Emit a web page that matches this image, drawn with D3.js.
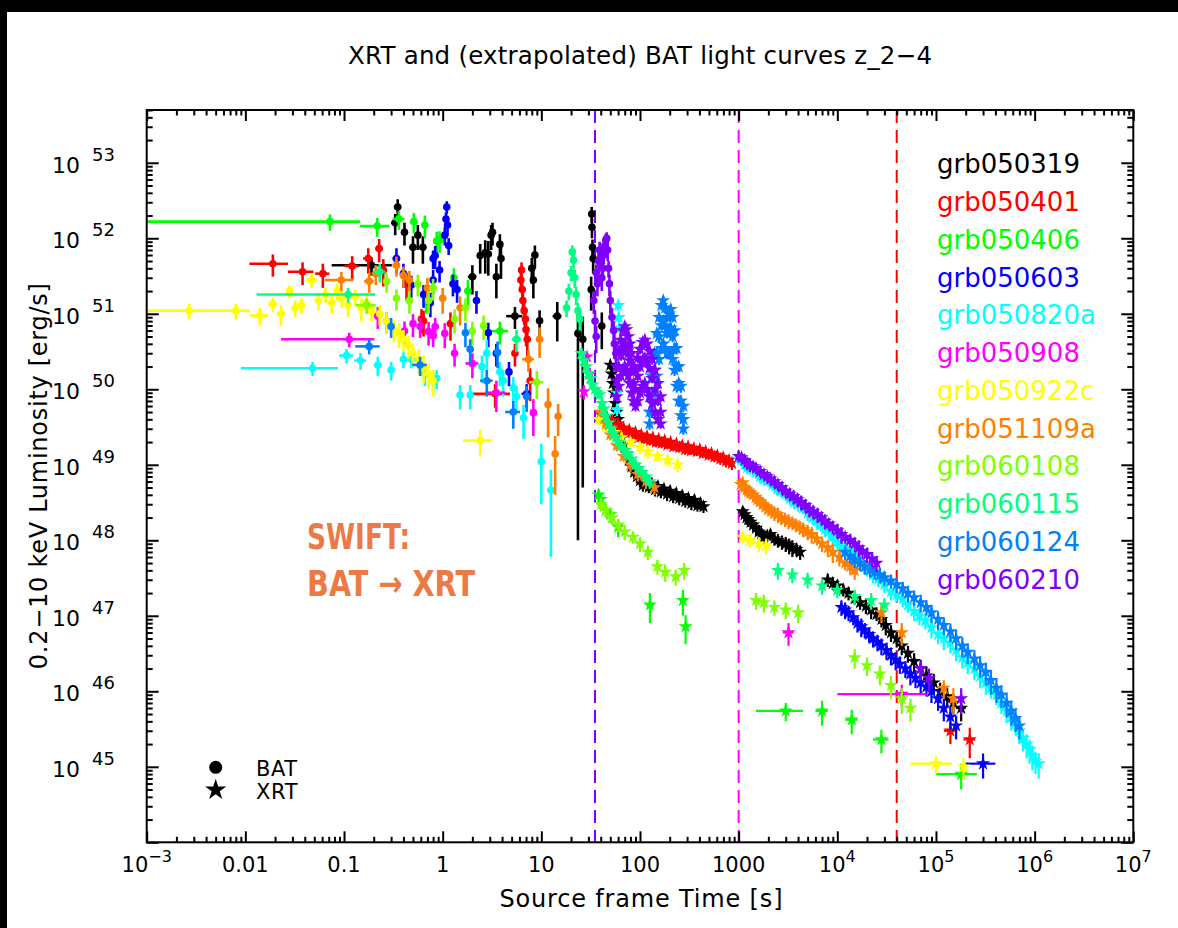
<!DOCTYPE html>
<html>
<head>
<meta charset="utf-8">
<script src="https://cdn.jsdelivr.net/npm/d3@7"></script>
<style>
html, body { margin: 0; padding: 0; background: #fff; }
svg { display: block; }
text { font-family: "DejaVu Sans", sans-serif; }
</style>
</head>
<body>
<svg id="chart" width="1178" height="928"></svg>
<script>
// Each point: [time (s), time half-width (s), luminosity (erg/s), luminosity half-error (erg/s)]

const grbNames = ["grb050319", "grb050401", "grb050406", "grb050603", "grb050820a", "grb050908",
  "grb050922c", "grb051109a", "grb060108", "grb060115", "grb060124", "grb060210"];
const grbColors = ["#000000", "#ff0000", "#00ff00", "#0000ff", "#00ffff", "#ff00ff",
  "#ffff00", "#ff8000", "#80ff00", "#00ff80", "#0080ff", "#8000ff"];

const bat050319 = [
  [0.19, 0.115, 4.4e51, 1.2e51], [0.33, 0.03, 1.6e52, 5e51], [0.35, 0.03, 2.6e52, 7e51],
  [0.41, 0.03, 1.2e52, 4e51], [0.50, 0.04, 7.6e51, 3e51], [0.56, 0.04, 1.1e52, 4e51],
  [0.63, 0.05, 7.6e51, 3e51], [2.0, 0.2, 3.1e51, 1.3e51], [2.4, 0.15, 5.9e51, 2.5e51],
  [2.7, 0.15, 6.4e51, 3e51], [2.9, 0.15, 6.2e51, 3e51], [3.1, 0.15, 1.1e52, 4e51],
  [3.2, 0.15, 1.2e52, 4e51], [3.5, 0.2, 3.1e51, 1.5e51], [3.8, 0.2, 8.3e51, 3e51],
  [3.9, 0.2, 5.4e51, 2.5e51], [5.4, 1.0, 9.3e50, 3e50], [8.0, 0.4, 4.0e51, 1.5e51],
  [8.3, 0.4, 2.8e51, 1.2e51], [8.6, 0.4, 6.0e51, 2e51], [9.6, 0.5, 8.1e50, 3e50],
  [14.5, 1.5, 9.3e50, 5e50], [23.5, 1, 5.5e50, 5.49e50], [26.3, 1, 4.6e50, 4.55e50],
  [32, 0.5, 2.1e51, 1e51], [32.4, 0.5, 2.1e52, 5e51], [32.6, 0.5, 1.4e52, 4e51],
  [33, 0.5, 7.6e51, 2e51], [33.5, 0.5, 5.4e51, 2e51], [41, 1, 6.9e50, 3.5e50]
];
const xrt050319 = [
  [50, 1, 2.1e50, 3e49], [51.5, 1, 1.6e50, 2.5e49], [53, 1, 1.2e50, 2e49], [54.5, 1, 9e49, 1.5e49],
  [56, 1, 6.5e49, 1e49], [58, 1, 5e49, 8e48], [60, 1.5, 4e49, 6e48], [63, 1.5, 3e49, 5e48],
  [66, 1.5, 2.3e49, 4e48], [69, 2, 1.8e49, 3e48], [73, 2, 1.4e49, 2.5e48], [77, 2, 1.15e49, 2e48],
  [82, 2.5, 9.5e48, 1.7e48], [87, 2.5, 8e48, 1.5e48], [93, 3, 7e48, 1.3e48], [100, 3, 6.2e48, 1.2e48],
  [107, 3, 5.4e48, 1e48], [115, 4, 5.9e48, 1e48], [123, 4, 5.1e48, 9e47], [132, 4, 5.6e48, 1e48],
  [142, 5, 4.7e48, 9e47], [152, 5, 5.2e48, 9e47], [163, 5, 4.4e48, 8e47], [175, 6, 4.8e48, 8e47],
  [188, 6, 4.1e48, 8e47], [202, 7, 4.5e48, 8e47], [217, 7, 3.8e48, 7e47], [233, 8, 4.2e48, 7e47],
  [250, 8, 3.6e48, 7e47], [268, 9, 3.9e48, 7e47], [288, 10, 3.3e48, 6e47], [309, 10, 3.6e48, 6e47],
  [332, 11, 3.1e48, 6e47], [356, 12, 3.4e48, 6e47], [382, 13, 2.9e48, 5e47], [410, 14, 3.1e48, 5e47],
  [440, 15, 2.8e48, 5e47],
  [1100, 40, 2.4e48, 4e47], [1150, 40, 2.2e48, 4e47], [1200, 40, 2.0e48, 4e47], [1250, 40, 1.9e48, 4e47],
  [1320, 45, 1.75e48, 3e47], [1400, 50, 1.6e48, 3e47], [1500, 55, 1.45e48, 3e47], [1600, 60, 1.3e48, 3e47],
  [1700, 60, 1.25e48, 2e47], [1800, 60, 1.1e48, 2e47], [1950, 65, 1.15e48, 2e47], [2100, 70, 1.2e48, 2e47],
  [2300, 75, 1.05e48, 2e47], [2500, 80, 1.0e48, 2e47], [2750, 90, 9.5e47, 2e47], [3000, 100, 9e47, 2e47],
  [3250, 100, 8.5e47, 2e47], [3500, 100, 8e47, 2e47], [3850, 120, 7.6e47, 1.5e47], [4200, 150, 7e47, 1.5e47],
  [8000, 300, 3e47, 6e46], [9000, 350, 2.7e47, 5e46], [1e4, 400, 2.5e47, 5e46], [1.15e4, 450, 2.2e47, 4e46],
  [1.3e4, 500, 2e47, 4e46], [1.5e4, 550, 1.7e47, 3e46], [1.7e4, 600, 1.5e47, 3e46], [1.95e4, 700, 1.35e47, 3e46],
  [2.2e4, 800, 1.2e47, 3e46], [2.5e4, 900, 1.05e47, 2e46], [2.8e4, 1000, 9e46, 2e46], [3.1e4, 1200, 7.5e46, 2e46],
  [3.5e4, 1500, 6e46, 1.5e46], [4e4, 1700, 5e46, 1.2e46], [4.5e4, 2000, 4e46, 1e46], [5.2e4, 2500, 3.2e46, 8e45],
  [6e4, 3000, 2.5e46, 7e45], [7e4, 3500, 2e46, 6e45], [8e4, 4000, 1.6e46, 5e45], [9.5e4, 5000, 1.3e46, 4e45],
  [1.1e5, 6000, 1e46, 3e45], [1.3e5, 7000, 8.5e45, 2.5e45], [1.5e5, 8000, 7e45, 2e45],
  [1.8e5, 2e4, 6e45, 2e45]
];

const bat050401 = [
  [0.019, 0.008, 4.6e51, 1.5e51], [0.038, 0.011, 3.6e51, 1.2e51], [0.061, 0.01, 3.4e51, 1.2e51],
  [0.121, 0.02, 4.3e51, 1.5e51], [0.176, 0.02, 5.4e51, 2e51], [0.227, 0.02, 7.3e51, 2.5e51],
  [0.25, 0.02, 3.8e51, 1.5e51], [0.43, 0.03, 2.5e51, 1e51], [0.61, 0.05, 8.5e50, 3e50],
  [0.64, 0.05, 8e50, 3e50], [1.2, 0.1, 7.4e50, 3e50], [3.4, 1.4, 8.7e49, 3e49],
  [5.4, 0.3, 3.0e50, 1e50], [6.2, 0.1, 2.8e51, 8e50], [6.3, 0.1, 3.8e51, 1e51],
  [6.4, 0.1, 2.1e51, 6e50], [6.5, 0.1, 1.5e51, 5e50], [6.7, 0.1, 1.1e51, 4e50],
  [6.9, 0.1, 8.5e50, 3e50], [7.0, 0.1, 6.2e50, 2.5e50], [7.2, 0.1, 4.6e50, 2e50],
  [7.7, 0.3, 1.3e50, 6e49]
];
const xrt050401 = [
  [40, 1.5, 4.6e49, 6e48], [43, 1.5, 4.1e49, 5e48], [46, 1.5, 4.4e49, 5e48], [49, 1.5, 3.7e49, 5e48],
  [52, 2, 3.9e49, 5e48], [56, 2, 3.3e49, 4e48], [60, 2, 3.5e49, 4e48], [64, 2, 2.9e49, 4e48],
  [68, 2, 3.1e49, 4e48], [73, 2.5, 2.6e49, 3e48], [78, 2.5, 2.9e49, 3e48], [84, 3, 2.5e49, 3e48],
  [90, 3, 2.7e49, 3e48], [96, 3, 2.3e49, 3e48], [103, 3.5, 2.5e49, 3e48], [110, 3.5, 2.2e49, 3e48],
  [118, 4, 2.4e49, 3e48], [126, 4, 2.1e49, 3e48], [135, 4.5, 2.3e49, 3e48], [145, 5, 2.0e49, 3e48],
  [155, 5, 2.2e49, 3e48], [166, 5.5, 1.95e49, 3e48], [178, 6, 2.1e49, 3e48], [190, 6, 1.85e49, 2.5e48],
  [204, 7, 2.0e49, 2.5e48], [218, 7, 1.75e49, 2.5e48], [234, 8, 1.9e49, 2.5e48], [250, 8, 1.7e49, 2.5e48],
  [268, 9, 1.8e49, 2.5e48], [287, 10, 1.6e49, 2.5e48], [307, 10, 1.75e49, 2.5e48], [329, 11, 1.55e49, 2e48],
  [352, 12, 1.65e49, 2e48], [377, 12, 1.5e49, 2e48], [404, 13, 1.6e49, 2e48], [432, 14, 1.42e49, 2e48],
  [463, 15, 1.5e49, 2e48], [496, 16, 1.35e49, 2e48], [531, 17, 1.42e49, 2e48], [568, 18, 1.28e49, 2e48],
  [608, 20, 1.33e49, 2e48], [651, 21, 1.2e49, 2e48], [697, 23, 1.25e49, 2e48], [746, 24, 1.12e49, 2e48],
  [799, 26, 1.15e49, 2e48], [855, 28, 1.05e49, 2e48],
  [1.4e5, 2e4, 3e45, 1e45], [2.2e5, 3e4, 2.3e45, 1e45]
];

const bat050406 = [
  [0.072, 0.073, 1.66e52, 4e51], [0.217, 0.072, 1.45e52, 4e51], [0.36, 0.05, 1.8e52, 5e51],
  [0.51, 0.04, 1.66e52, 5e51], [0.66, 0.05, 1.5e52, 5e51], [0.68, 0.05, 1.6e51, 6e50],
  [0.87, 0.06, 9.2e51, 3e51], [0.93, 0.06, 9.4e51, 3e51], [1.3, 0.1, 3e51, 1e51],
  [1.8, 0.1, 2e51, 8e50], [3.8, 0.8, 5.9e50, 2e50]
];
const xrt050406 = [
  [38, 1, 4e48, 8e47], [40, 1, 3.5e48, 7e47], [45, 2, 2.5e48, 5e47], [50, 2, 2.2e48, 5e47],
  [60, 3, 1.5e48, 4e47], [126, 10, 1.4e47, 6e46], [272, 15, 1.6e47, 6e46], [290, 15, 7.2e46, 3e46],
  [3000, 1500, 5.5e45, 1.5e45], [7000, 1000, 5.5e45, 2e45], [1.4e4, 2000, 4.2e45, 1.5e45],
  [2.8e4, 5000, 2.3e45, 8e44], [1.8e5, 8e4, 8e44, 3e44]
];

const bat050603 = [
  [0.34, 0.03, 5.4e51, 2e51], [0.40, 0.03, 3.4e51, 1.2e51], [0.48, 0.03, 2.4e51, 8e50],
  [0.64, 0.04, 1.8e51, 6e50], [0.75, 0.04, 1.4e51, 5e50], [0.80, 0.04, 5.4e51, 1.5e51],
  [0.80, 0.04, 2.8e51, 1e51], [0.84, 0.04, 5.9e51, 2e51], [0.93, 0.04, 3.8e51, 1.2e51],
  [1.05, 0.03, 1.1e52, 3e51], [1.08, 0.03, 1.8e52, 4e51], [1.1, 0.03, 2.6e52, 5e51],
  [1.12, 0.03, 1.5e52, 4e51], [1.15, 0.03, 8e51, 2e51], [1.27, 0.05, 2.5e51, 8e50],
  [1.4, 0.05, 2.1e51, 7e50], [2.2, 0.1, 1.5e51, 5e50], [2.9, 0.1, 5.6e50, 2e50],
  [3.5, 0.2, 3e50, 1e50], [4.7, 0.3, 1.7e50, 6e49], [7.1, 0.8, 8.7e49, 3e49]
];
const xrt050603 = [
  [1.1e4, 500, 1.3e47, 3e46], [1.2e4, 550, 1.2e47, 3e46], [1.3e4, 600, 1.1e47, 2.5e46],
  [1.45e4, 650, 9.5e46, 2e46], [1.6e4, 700, 8e46, 2e46], [1.75e4, 750, 7.2e46, 2e46],
  [1.9e4, 800, 6.5e46, 1.5e46], [2.1e4, 900, 5.7e46, 1.3e46], [2.3e4, 1000, 5e46, 1.2e46],
  [2.55e4, 1100, 4.5e46, 1.1e46], [2.8e4, 1200, 4e46, 1e46], [3.15e4, 1300, 3.5e46, 9e45],
  [3.5e4, 1500, 3e46, 8e45], [3.9e4, 1700, 2.6e46, 7e45], [4.3e4, 2000, 2.3e46, 6e45],
  [4.9e4, 2200, 2e46, 5e45], [5.5e4, 2500, 1.7e46, 5e45], [6.2e4, 2800, 1.5e46, 4e45],
  [7e4, 3000, 1.3e46, 4e45], [8e4, 3500, 1.15e46, 3e45], [9e4, 4000, 1e46, 3e45],
  [1.05e5, 5000, 8e45, 2.5e45], [1.2e5, 6000, 6e45, 2e45], [1.4e5, 7000, 4.6e45, 1.5e45],
  [1.6e5, 8000, 3.5e45, 1.2e45], [3e5, 1e5, 1.1e45, 4e44]
];

const bat050820a = [
  [0.048, 0.039, 1.9e50, 4e49], [0.106, 0.017, 2.8e50, 6e49], [0.147, 0.02, 2.4e50, 6e49],
  [0.22, 0.02, 2.1e50, 6e49], [0.30, 0.02, 1.8e50, 5e49], [0.40, 0.03, 2.5e50, 6e49],
  [0.48, 0.03, 2.5e50, 6e49], [0.66, 0.04, 1.6e50, 5e49], [0.80, 0.05, 1.3e50, 4e49],
  [0.87, 0.05, 1.4e50, 4e49], [1.5, 0.1, 8.4e49, 3e49], [1.9, 0.1, 8.4e49, 3e49],
  [2.5, 0.15, 2e50, 8e49], [2.8, 0.15, 3e50, 1.5e50], [3.8, 0.2, 1.7e50, 6e49],
  [4.1, 0.2, 1.3e50, 5e49], [5.2, 0.3, 1.05e50, 4e49], [5.6, 0.3, 8e49, 3e49],
  [6.6, 0.4, 4.2e49, 2e49], [10, 0.6, 1.1e49, 8e48], [12.5, 0.8, 4.6e48, 4e48]
];
const xrt050820a = [
  [58.5, 1, 8.9e49, 1.5e49], [58.5, 1, 5.4e49, 1e49],
  [60, 1, 1.3e51, 2e50], [61, 1, 9e50, 1.5e50], [62, 1, 6.5e50, 1e50], [63, 1, 4.5e50, 8e49],
  [64, 1, 3e50, 6e49],
  [1000, 30, 1.2e49, 2e48], [1070, 32, 1.15e49, 2e48], [1150, 35, 1e49, 1.8e48], [1220, 37, 9.2e48, 1.7e48],
  [1300, 40, 9e48, 1.6e48], [1400, 45, 8.8e48, 1.6e48], [1500, 50, 8e48, 1.5e48], [1650, 55, 7e48, 1.3e48],
  [1800, 60, 6.5e48, 1.2e48], [2000, 65, 6.2e48, 1.1e48], [2200, 70, 5.5e48, 1e48], [2450, 80, 4.8e48, 9e47],
  [2700, 90, 4.5e48, 8e47], [3000, 100, 4.1e48, 8e47], [3300, 110, 3.6e48, 7e47], [3650, 120, 3.2e48, 6e47],
  [4000, 130, 3e48, 6e47], [4500, 150, 2.7e48, 5e47], [5000, 160, 2.3e48, 5e47], [5600, 180, 2e48, 4e47],
  [6200, 200, 1.8e48, 4e47], [6800, 220, 1.6e48, 3e47], [7500, 250, 1.4e48, 3e47], [8200, 270, 1.3e48, 3e47],
  [9000, 300, 1.1e48, 2.5e47], [1e4, 350, 9.5e47, 2e47], [1.1e4, 400, 8.5e47, 2e47], [1.25e4, 450, 7.8e47, 1.7e47],
  [1.4e4, 500, 6.5e47, 1.5e47], [1.6e4, 600, 5.4e47, 1.2e47], [1.8e4, 700, 4.8e47, 1e47], [2e4, 800, 4.2e47, 9e46],
  [2.3e4, 900, 3.5e47, 8e46], [2.6e4, 1000, 3.1e47, 7e46], [3e4, 1200, 2.6e47, 6e46], [3.5e4, 1400, 2.1e47, 5e46],
  [4e4, 1600, 1.9e47, 4e46], [4.6e4, 1800, 1.7e47, 4e46], [5.2e4, 2000, 1.4e47, 3e46], [6e4, 2300, 1.15e47, 3e46],
  [6.8e4, 2500, 1e47, 2.5e46], [7.8e4, 3000, 8.6e46, 2e46], [9e4, 3500, 7e46, 2e46], [1.05e5, 4000, 5.7e46, 1.5e46],
  [1.2e5, 5000, 5e46, 1.5e46], [1.4e5, 6000, 4.4e46, 1.2e46], [1.6e5, 7000, 3.5e46, 1e46], [1.85e5, 8000, 2.8e46, 8e45],
  [2.1e5, 9000, 2.4e46, 7e45], [2.45e5, 1e4, 2e46, 6e45], [2.8e5, 1.2e4, 1.6e46, 5e45], [3.2e5, 1.3e4, 1.3e46, 4e45],
  [3.6e5, 1.5e4, 1.1e46, 3e45], [4.1e5, 1.7e4, 9e45, 2.5e45], [4.6e5, 2e4, 7e45, 2e45], [5.2e5, 2.2e4, 5.5e45, 1.7e45],
  [5.8e5, 2.5e4, 4.5e45, 1.5e45], [6.4e5, 2.7e4, 3.8e45, 1.2e45], [7e5, 3e4, 3e45, 1e45], [7.6e5, 3.2e4, 2.4e45, 8e44],
  [8.3e5, 3.5e4, 2e45, 7e44], [8.9e5, 3.8e4, 1.7e45, 6e44], [9.5e5, 4e4, 1.4e45, 5e44], [1.02e6, 4.5e4, 1.2e45, 4e44],
  [1.1e6, 5e4, 1.1e45, 4e44]
];

const bat050908 = [
  [0.113, 0.09, 4.6e50, 1e50], [0.22, 0.02, 9.3e50, 3e50], [0.27, 0.02, 8.0e50, 2.5e50],
  [0.41, 0.03, 5.9e50, 2e50], [0.50, 0.03, 7.4e50, 2.5e50], [0.59, 0.04, 6.8e50, 2e50],
  [0.72, 0.04, 5.8e50, 2e50], [0.80, 0.05, 5.1e50, 1.5e50], [0.84, 0.05, 6.8e50, 2e50],
  [1.05, 0.06, 5.5e50, 2e50], [1.32, 0.08, 3e50, 1e50], [2.0, 0.3, 2.2e50, 8e49],
  [3.5, 0.8, 9e49, 4e49], [8.3, 0.6, 4.9e49, 2.5e49]
];
const xrt050908 = [
  [27, 1, 9.3e49, 2e49], [29, 1, 2.7e50, 5e49], [31, 1, 1.6e50, 3e49],
  [3200, 400, 6e46, 2e46], [4.5e4, 3.5e4, 9.2e45, 3e45]
];

const bat050922c = [
  [0.0027, 0.0024, 1.1e51, 2.5e50], [0.008, 0.003, 1.1e51, 2.5e50], [0.014, 0.003, 9.5e50, 2.5e50],
  [0.019, 0.002, 1.35e51, 3e50], [0.023, 0.002, 1.0e51, 3e50], [0.028, 0.002, 2e51, 4e50],
  [0.032, 0.002, 1.2e51, 3e50], [0.037, 0.003, 1.3e51, 3e50], [0.047, 0.006, 2.8e51, 6e50],
  [0.055, 0.004, 1.5e51, 4e50], [0.065, 0.004, 1.8e51, 4e50], [0.075, 0.005, 1.4e51, 4e50],
  [0.085, 0.005, 2.0e51, 5e50], [0.095, 0.005, 1.6e51, 4e50], [0.11, 0.006, 1.3e51, 4e50],
  [0.13, 0.007, 1.7e51, 4e50], [0.15, 0.008, 1.2e51, 4e50], [0.17, 0.009, 1.4e51, 4e50],
  [0.19, 0.01, 1.1e51, 3e50], [0.23, 0.01, 1.0e51, 3e50], [0.27, 0.01, 8e50, 2.5e50],
  [0.32, 0.015, 6.2e50, 2e50], [0.36, 0.015, 5.5e50, 2e50], [0.40, 0.02, 4.6e50, 1.5e50],
  [0.45, 0.02, 3.8e50, 1.3e50], [0.50, 0.02, 3e50, 1e50], [0.57, 0.03, 2.5e50, 9e49],
  [0.64, 0.03, 2e50, 8e49], [0.72, 0.03, 1.6e50, 6e49], [0.80, 0.04, 1.3e50, 5e49],
  [2.4, 0.8, 2.1e49, 8e48]
];
const xrt050922c = [
  [38, 1, 4e49, 6e48], [45, 2, 3.2e49, 5e48], [55, 2, 2.7e49, 4e48], [65, 3, 2.3e49, 4e48],
  [80, 3, 2e49, 3e48], [100, 4, 1.7e49, 3e48], [120, 5, 1.5e49, 3e48], [150, 6, 1.3e49, 2e48],
  [190, 8, 1.15e49, 2e48], [240, 10, 1e49, 2e48],
  [1100, 40, 1.1e48, 2e47], [1300, 50, 1e48, 2e47], [1600, 60, 9e47, 2e47], [1900, 70, 8.5e47, 2e47],
  [1e5, 4.5e4, 1.1e45, 3e44], [1.9e5, 1e4, 1e45, 3e44]
];

const bat051109a = [
  [0.094, 0.03, 2.8e51, 8e50], [0.18, 0.02, 2.7e51, 8e50], [0.21, 0.02, 3.4e51, 1e51],
  [0.34, 0.03, 4.4e51, 1.3e51], [0.40, 0.03, 3.2e51, 1e51], [0.46, 0.03, 2.8e51, 9e50],
  [0.7, 0.05, 2.2e51, 8e50], [1.0, 0.06, 1.6e51, 6e50], [1.5, 0.1, 1.2e51, 5e50],
  [7.4, 1.0, 2.5e50, 8e49], [9.6, 0.5, 4.6e50, 2e50], [11.7, 0.6, 6.3e49, 4e49],
  [13.8, 0.7, 1.4e49, 1e49], [14.8, 0.7, 4.4e49, 2e49]
];
const xrt051109a = [
  [40, 1, 5e49, 8e48], [45, 2, 3.5e49, 6e48], [50, 2, 2.5e49, 4e48], [58, 2, 1.8e49, 3e48],
  [68, 3, 1.3e49, 2e48], [80, 3, 1e49, 2e48], [95, 4, 7.5e48, 1.5e48], [115, 5, 6e48, 1.2e48],
  [140, 6, 5e48, 1e48],
  [1050, 30, 5.5e48, 1e48], [1100, 32, 5.8e48, 1e48], [1150, 35, 5e48, 1e48], [1200, 37, 4.7e48, 9e47],
  [1250, 40, 4.5e48, 9e47], [1320, 42, 4.3e48, 8e47], [1400, 45, 4e48, 8e47], [1480, 47, 3.7e48, 7e47],
  [1550, 50, 3.5e48, 7e47], [1650, 52, 3.3e48, 7e47], [1750, 55, 3e48, 6e47], [1870, 58, 2.8e48, 6e47],
  [2000, 60, 2.6e48, 5e47], [2150, 65, 2.45e48, 5e47], [2300, 70, 2.3e48, 5e47], [2500, 75, 2.2e48, 5e47],
  [2700, 80, 2e48, 4e47], [2950, 90, 1.9e48, 4e47], [3200, 100, 1.8e48, 4e47], [3500, 110, 1.7e48, 3e47],
  [3800, 120, 1.6e48, 3e47], [4150, 130, 1.5e48, 3e47], [4500, 150, 1.4e48, 3e47], [5000, 160, 1.3e48, 3e47],
  [5500, 180, 1.2e48, 3e47], [6200, 200, 1.05e48, 2e47], [7000, 250, 9e47, 2e47], [8000, 280, 8e47, 2e47],
  [9000, 300, 7e47, 2e47], [1.05e4, 350, 6e47, 1.5e47], [1.2e4, 400, 5e47, 1e47], [1.35e4, 450, 4.5e47, 1e47],
  [1.5e4, 500, 4e47, 1e47], [2.8e4, 1500, 1.1e47, 3e46],
  [4.5e4, 2000, 6e46, 2e46], [1.2e5, 6000, 1.1e46, 3e45], [1.5e5, 8000, 8e45, 3e45]
];

const bat060108 = [
  [0.17, 0.04, 1.3e51, 3e50], [0.27, 0.02, 2.7e51, 8e50], [0.34, 0.02, 1.6e51, 5e50],
  [0.46, 0.03, 1.5e51, 5e50], [0.56, 0.03, 2.5e51, 8e50], [0.72, 0.04, 1.5e51, 5e50],
  [0.80, 0.05, 2.2e51, 7e50], [1.32, 0.08, 8.5e50, 3e50], [1.7, 0.1, 1.2e51, 4e50],
  [2.0, 0.1, 5.9e50, 2e50], [2.6, 0.15, 7e50, 2.5e50], [9.0, 1.5, 1.24e50, 5e49]
];
const xrt060108 = [
  [40, 1, 3e48, 6e47], [45, 2, 2.5e48, 5e47], [52, 2, 2e48, 4e47], [60, 2, 1.6e48, 3e47],
  [70, 3, 1.3e48, 3e47], [85, 3, 1.1e48, 2e47], [100, 4, 9e47, 2e47], [120, 5, 7e47, 1.5e47],
  [150, 6, 4.5e47, 1e47], [180, 8, 3.8e47, 1e47], [230, 10, 3.3e47, 8e46], [280, 12, 4e47, 1e47],
  [1500, 60, 1.6e47, 4e46], [1800, 70, 1.5e47, 4e46], [2300, 90, 1.3e47, 3e46], [3000, 120, 1.2e47, 3e46],
  [4000, 160, 1.1e47, 3e46], [1.5e4, 600, 2.8e46, 8e45], [2e4, 800, 2.2e46, 6e45], [2.7e4, 1000, 1.7e46, 5e45],
  [3.5e4, 1500, 1.2e46, 4e45], [4.5e4, 2000, 8e45, 3e45], [5.5e4, 2500, 6e45, 2e45]
];

const bat060115 = [
  [0.11, 0.097, 1.8e51, 4e50], [0.23, 0.03, 3.6e51, 1e51], [5.6, 0.6, 4.6e50, 1.5e50],
  [18, 0.5, 1.2e51, 3e50], [19, 0.5, 2e51, 5e50], [20, 0.5, 3.5e51, 8e50], [20.6, 0.5, 6.6e51, 1.5e51],
  [21.2, 0.5, 5.1e51, 1.2e51], [21.8, 0.5, 3e51, 8e50], [22.5, 0.5, 1.8e51, 5e50], [23.5, 0.5, 1.1e51, 3e50],
  [24.5, 0.5, 8.5e50, 2.5e50]
];
const xrt060115 = [
  [25.5, 1, 3e50, 5e49], [27, 1, 2.4e50, 4e49], [28.5, 1, 2e50, 3e49], [30, 1, 1.6e50, 2.5e49],
  [31.5, 1, 1.4e50, 2e49], [33, 1, 1.15e50, 1.8e49], [35, 1, 1e50, 1.5e49], [37, 1, 9e49, 1.3e49],
  [39, 1, 8.5e49, 1.2e49], [41, 1, 6.5e49, 1e49], [43, 1, 5.5e49, 8e48], [45, 2, 4.4e49, 6e48],
  [48, 2, 3.6e49, 5e48], [51, 2, 3e49, 5e48], [54, 2, 2.6e49, 4e48], [57, 2, 2.3e49, 4e48],
  [61, 3, 2e49, 3e48], [65, 3, 1.8e49, 3e48], [70, 3, 1.55e49, 2.5e48], [75, 3, 1.4e49, 2.5e48],
  [82, 4, 1.2e49, 2e48], [90, 4, 1e49, 2e48], [97, 4, 9e48, 1.6e48], [105, 4, 8e48, 1.5e48],
  [115, 5, 7e48, 1.3e48], [125, 5, 6e48, 1.2e48],
  [2500, 100, 4e47, 1e47], [3500, 140, 3.5e47, 8e46], [5000, 200, 3e47, 7e46], [7000, 280, 2.5e47, 6e46],
  [1e4, 400, 2.2e47, 5e46], [1.5e4, 600, 1.8e47, 4e46], [2.2e4, 900, 1.6e47, 4e46], [3e4, 1200, 1.4e47, 3e46]
];

const bat060124 = [
  [0.18, 0.05, 3.7e50, 8e49], [0.30, 0.02, 6.8e50, 2e50], [0.59, 0.1, 2.1e50, 6e49],
  [1.7, 0.1, 5.6e50, 2e50], [1.9, 0.1, 3.4e50, 1.2e50], [2.8, 0.4, 1.3e50, 5e49],
  [3.6, 0.2, 3.1e50, 1.2e50], [5.2, 0.9, 5e49, 2e49], [7.1, 0.4, 8e49, 3e49]
];
const xrt060124 = [
  [125, 3, 8e49, 1.2e49], [125, 3, 5e49, 8e48], [125, 3, 3.5e49, 6e48],
  [132, 3, 1.5e50, 2.5e49], [132, 3, 9e49, 1.5e49], [132, 3, 5e49, 8e48],
  [140, 3, 3e50, 5e49], [140, 3, 1.8e50, 3e49], [140, 3, 9e49, 1.5e49],
  [148, 3, 5.5e50, 8e49], [148, 3, 3e50, 5e49], [148, 3, 1.5e50, 2.5e49],
  [156, 3, 9e50, 1.3e50], [156, 3, 5e50, 8e49], [156, 3, 2.5e50, 4e49],
  [165, 3, 1.3e51, 2e50], [165, 3, 7e50, 1e50], [165, 3, 3.5e50, 6e49],
  [172, 3, 1.5e51, 2e50], [172, 3, 8e50, 1.2e50], [172, 3, 4e50, 6e49],
  [180, 3, 1.2e51, 2e50], [180, 3, 7e50, 1e50], [180, 3, 3.5e50, 6e49],
  [188, 3, 9e50, 1.3e50], [188, 3, 5.5e50, 8e49], [188, 3, 3e50, 5e49],
  [196, 3, 1e51, 1.5e50], [196, 3, 6e50, 9e49], [196, 3, 3e50, 5e49],
  [205, 3, 1.15e51, 1.7e50], [205, 3, 6.5e50, 1e50], [205, 3, 3e50, 5e49],
  [214, 4, 9e50, 1.3e50], [214, 4, 5e50, 8e49], [214, 4, 2.5e50, 4e49],
  [224, 4, 6e50, 9e49], [224, 4, 3.5e50, 6e49], [224, 4, 1.8e50, 3e49],
  [235, 4, 3.5e50, 6e49], [235, 4, 2e50, 3e49], [235, 4, 1.1e50, 2e49],
  [247, 5, 2e50, 3e49], [247, 5, 1.2e50, 2e49], [247, 5, 7e49, 1.2e49],
  [260, 5, 1.1e50, 2e49], [260, 5, 7e49, 1.2e49], [260, 5, 4.5e49, 8e48],
  [275, 6, 6e49, 1e49], [275, 6, 4e49, 7e48], [275, 6, 3e49, 5e48],
  [1.2e4, 500, 7e47, 1.5e47], [1.35e4, 550, 6.2e47, 1.3e47], [1.5e4, 600, 5.5e47, 1.2e47],
  [1.7e4, 700, 5e47, 1.1e47], [1.9e4, 800, 4.5e47, 1e47], [2.15e4, 900, 4.1e47, 9e46],
  [2.4e4, 1000, 3.8e47, 8e46], [2.7e4, 1100, 3.5e47, 8e46], [3e4, 1200, 3.2e47, 7e46],
  [3.5e4, 1400, 2.9e47, 6e46], [4e4, 1600, 2.6e47, 6e46], [4.6e4, 1800, 2.3e47, 5e46],
  [5.2e4, 2000, 2e47, 5e46], [6e4, 2500, 1.75e47, 4e46], [7e4, 3000, 1.5e47, 4e46],
  [8e4, 3500, 1.3e47, 3e46], [9e4, 4000, 1.1e47, 3e46], [1.05e5, 4500, 9e46, 2.5e46],
  [1.2e5, 5000, 7.5e46, 2e46], [1.4e5, 6000, 6.2e46, 1.7e46], [1.6e5, 7000, 5e46, 1.5e46],
  [1.85e5, 8000, 4e46, 1.2e46], [2.1e5, 9000, 3.3e46, 1e46], [2.45e5, 1e4, 2.7e46, 8e45],
  [2.8e5, 1.2e4, 2.2e46, 7e45], [3.2e5, 1.3e4, 1.8e46, 6e45], [3.6e5, 1.5e4, 1.4e46, 5e45],
  [4.1e5, 1.7e4, 1.1e46, 4e45], [4.6e5, 2e4, 9e45, 3e45], [5.2e5, 2.2e4, 7e45, 2.5e45],
  [5.8e5, 2.5e4, 5.5e45, 2e45], [6.4e5, 2.7e4, 4.4e45, 1.5e45], [7e5, 3e4, 3.5e45, 1.2e45]
];

const bat060210 = [
  [34, 1, 1.5e51, 5e50], [35, 1, 8e50, 3e50], [36, 1, 5e50, 2e50],
  [36, 1, 3.5e51, 1e51], [37, 1, 2.5e51, 8e50], [38, 1, 5e51, 1.5e51], [39, 1, 7e51, 2e51],
  [40, 1, 5.5e51, 1.5e51], [41, 1, 3e51, 1e51], [42, 1, 4e51, 1e51], [43, 1, 6e51, 1.5e51],
  [44, 1, 8e51, 2e51], [45, 1, 9.5e51, 2e51], [46, 1, 1e52, 2e51], [47, 1, 7e51, 2e51],
  [48, 1, 4e51, 1e51], [49, 1, 2.5e51, 8e50], [50, 1, 1.5e51, 5e50], [52, 1, 9e50, 3e50],
  [54, 1, 6e50, 2e50], [55, 1, 4e50, 1.5e50], [57, 1, 3e50, 1e50]
];
const xrt060210 = [
  [58, 1, 2e50, 3e49], [58, 1, 1.3e50, 2e49], [58, 1, 8e49, 1.2e49],
  [61, 1, 3.2e50, 5e49], [61, 1, 2e50, 3e49], [61, 1, 1.1e50, 1.7e49],
  [64, 1, 4.5e50, 7e49], [64, 1, 2.8e50, 4e49], [64, 1, 1.5e50, 2.3e49],
  [67, 1, 6e50, 9e49], [67, 1, 3.5e50, 5e49], [67, 1, 1.8e50, 2.7e49],
  [70, 1, 6.8e50, 1e50], [70, 1, 4e50, 6e49], [70, 1, 2e50, 3e49],
  [73, 1, 6.2e50, 9e49], [73, 1, 3.6e50, 5e49], [73, 1, 1.8e50, 2.7e49],
  [76, 1, 5e50, 7e49], [76, 1, 3e50, 4.5e49], [76, 1, 1.5e50, 2.3e49],
  [79, 1, 4e50, 6e49], [79, 1, 2.4e50, 3.6e49], [79, 1, 1.2e50, 1.8e49],
  [82, 1, 3e50, 4.5e49], [82, 1, 1.8e50, 2.7e49], [82, 1, 9e49, 1.4e49],
  [86, 1, 2e50, 3e49], [86, 1, 1.2e50, 1.8e49], [86, 1, 7e49, 1e49],
  [90, 2, 1.8e50, 2.7e49], [90, 2, 1e50, 1.5e49], [90, 2, 6e49, 9e48],
  [95, 2, 2.6e50, 4e49], [95, 2, 1.5e50, 2.3e49], [95, 2, 7e49, 1e49],
  [100, 2, 3.4e50, 5e49], [100, 2, 2e50, 3e49], [100, 2, 9e49, 1.4e49],
  [106, 2, 4.2e50, 6e49], [106, 2, 2.4e50, 3.6e49], [106, 2, 1.1e50, 1.7e49],
  [112, 2, 4.5e50, 7e49], [112, 2, 2.6e50, 4e49], [112, 2, 1.2e50, 1.8e49],
  [118, 2, 4e50, 6e49], [118, 2, 2.3e50, 3.5e49], [118, 2, 1e50, 1.5e49],
  [125, 3, 3.2e50, 5e49], [125, 3, 1.9e50, 2.8e49], [125, 3, 8e49, 1.2e49],
  [133, 3, 2.5e50, 3.8e49], [133, 3, 1.4e50, 2e49], [133, 3, 6.5e49, 1e49],
  [142, 3, 1.8e50, 2.7e49], [142, 3, 1e50, 1.5e49], [142, 3, 5e49, 8e48],
  [152, 4, 1.2e50, 1.8e49], [152, 4, 7e49, 1e49], [152, 4, 4e49, 6e48],
  [162, 4, 8e49, 1.2e49], [162, 4, 5e49, 8e48], [162, 4, 3.5e49, 5e48],
  [1000, 30, 1.3e49, 2e48], [1070, 32, 1.25e49, 2e48], [1150, 35, 1.15e49, 2e48], [1220, 37, 1.05e49, 2e48],
  [1300, 40, 1e49, 2e48], [1400, 45, 9.5e48, 1.6e48], [1500, 50, 9e48, 1.5e48], [1650, 55, 8.2e48, 1.4e48],
  [1800, 60, 7.5e48, 1.3e48], [1950, 65, 7e48, 1.2e48], [2100, 70, 6.5e48, 1.2e48], [2300, 75, 6e48, 1.1e48],
  [2500, 80, 5.5e48, 1e48], [2750, 90, 5e48, 1e48], [3000, 100, 4.5e48, 9e47], [3300, 110, 4.1e48, 8e47],
  [3600, 120, 3.8e48, 8e47], [3950, 130, 3.5e48, 7e47], [4300, 140, 3.2e48, 7e47], [4750, 155, 2.9e48, 6e47],
  [5200, 170, 2.6e48, 6e47], [5700, 185, 2.4e48, 5e47], [6300, 200, 2.2e48, 5e47], [6900, 225, 2e48, 4e47],
  [7500, 250, 1.8e48, 4e47], [8200, 270, 1.65e48, 3e47], [9000, 300, 1.5e48, 3e47], [1e4, 350, 1.35e48, 3e47],
  [1.1e4, 400, 1.2e48, 3e47], [1.2e4, 450, 1.1e48, 2e47], [1.35e4, 500, 1e48, 2e47], [1.5e4, 550, 9e47, 2e47],
  [1.65e4, 600, 8e47, 2e47], [1.8e4, 700, 7.2e47, 1.5e47], [2e4, 800, 6.5e47, 1.5e47], [2.25e4, 900, 5.7e47, 1.3e47],
  [2.5e4, 1000, 5e47, 1.2e47],
  [7e4, 3000, 2e46, 6e45], [8.5e4, 4000, 1.5e46, 5e45], [1.8e5, 1e4, 8e45, 3e45]
];

const batSets = [bat050319, bat050401, bat050406, bat050603, bat050820a, bat050908,
  bat050922c, bat051109a, bat060108, bat060115, bat060124, bat060210];
const xrtSets = [xrt050319, xrt050401, xrt050406, xrt050603, xrt050820a, xrt050908,
  xrt050922c, xrt051109a, xrt060108, xrt060115, xrt060124, xrt060210];

// reference epochs marked by dashed verticals
const markerTimes = [35, 1000, 4e4];
const markerColors = ["#8000ff", "#ff00ff", "#ff0000"];

// tick labels
const xTickValues = [1e-3, 1e-2, 1e-1, 1, 10, 100, 1000, 1e4, 1e5, 1e6, 1e7];
const xTickBase = ["10", "0.01", "0.1", "1", "10", "100", "1000", "10", "10", "10", "10"];
const xTickExp = ["\u22123", "", "", "", "", "", "", "4", "5", "6", "7"];
const yTickValues = [1e45, 1e46, 1e47, 1e48, 1e49, 1e50, 1e51, 1e52, 1e53];
const yTickExp = ["45", "46", "47", "48", "49", "50", "51", "52", "53"];

const W = 1178, H = 928;
const svg = d3.select("#chart");

svg.append("rect").attr("width", W).attr("height", H).attr("fill", "#fff");
svg.append("rect").attr("x", 0).attr("y", 0).attr("width", W).attr("height", 12).attr("fill", "#000");
svg.append("rect").attr("x", 0).attr("y", 0).attr("width", 7).attr("height", H).attr("fill", "#000");

const x = d3.scaleLog().domain([1e-3, 1e7]).range([146.7, 1133.3]);
const y = d3.scaleLog().domain([1e44, 5e53]).range([842.3, 110]);
const [x0, x1] = x.range();
const [y0, y1] = y.range();

svg.append("clipPath").attr("id", "plotClip")
  .append("rect").attr("x", x0).attr("y", y1).attr("width", x1 - x0).attr("height", y0 - y1);

// title
svg.append("text")
  .attr("x", 640).attr("y", 64).attr("text-anchor", "middle")
  .attr("font-size", 24.5).attr("fill", "#000")
  .attr("textLength", 584).attr("lengthAdjust", "spacing")
  .text("XRT and (extrapolated) BAT light curves z_2\u22124");

const plot = svg.append("g").attr("clip-path", "url(#plotClip)");

// dashed reference lines
plot.selectAll("line.marker").data(markerTimes).join("line")
  .attr("class", "marker")
  .attr("x1", d => x(d)).attr("x2", d => x(d))
  .attr("y1", y1).attr("y2", y0)
  .attr("stroke", (d, i) => markerColors[i])
  .attr("stroke-width", 2)
  .attr("stroke-dasharray", "13,7");

const tMin = x.domain()[0], lMin = y.domain()[0];
const starPath = d3.symbol(d3.symbolStar, 62)();

function drawSet(g, pts, color, kind) {
  const gg = g.append("g");
  const bars = gg.selectAll("g.bar").data(pts).join("g").attr("class", "bar");
  bars.append("line")
    .attr("x1", d => x(Math.max(d[0] - d[1], tMin / 10)))
    .attr("x2", d => x(d[0] + d[1]))
    .attr("y1", d => y(d[2])).attr("y2", d => y(d[2]))
    .attr("stroke", color).attr("stroke-width", kind === "bat" ? 2.6 : 2.2);
  bars.append("line")
    .attr("x1", d => x(d[0])).attr("x2", d => x(d[0]))
    .attr("y1", d => y(Math.max(d[2] - d[3], lMin / 10)))
    .attr("y2", d => y(d[2] + d[3]))
    .attr("stroke", color).attr("stroke-width", kind === "bat" ? 2.6 : 2.2);
  if (kind === "bat") {
    gg.selectAll("circle").data(pts).join("circle")
      .attr("cx", d => x(d[0])).attr("cy", d => y(d[2]))
      .attr("r", 3.8).attr("fill", color);
  } else {
    gg.selectAll("path").data(pts).join("path")
      .attr("d", starPath)
      .attr("transform", d => `translate(${x(d[0])},${y(d[2])})`)
      .attr("fill", color);
  }
}

grbNames.forEach((name, i) => {
  const g = plot.append("g").attr("class", name);
  drawSet(g, batSets[i], grbColors[i], "bat");
  drawSet(g, xrtSets[i], grbColors[i], "xrt");
});

// axes with inward log ticks on all four sides
const xMinor = [], yMinor = [];
for (let e = -3; e < 7; e++) for (let k = 2; k <= 9; k++) xMinor.push(k * Math.pow(10, e));
for (let e = 44; e < 54; e++) for (let k = 2; k <= 9; k++) { const v = k * Math.pow(10, e); if (v <= 5e53) yMinor.push(v); }
const yMajor = d3.range(44, 54).map(e => Math.pow(10, e));

const axes = svg.append("g").attr("class", "axes");
function styleAxis(sel) {
  sel.select(".domain").remove();
  sel.selectAll(".tick line").attr("stroke", "#000").attr("stroke-width", 2);
  sel.selectAll(".tick text").remove();
}
[[d3.axisBottom, y0], [d3.axisTop, y1]].forEach(([ax, pos]) => {
  axes.append("g").attr("transform", `translate(0,${pos})`)
    .call(ax(x).tickValues(xMinor).tickSize(-5.5).tickFormat("")).call(styleAxis);
  axes.append("g").attr("transform", `translate(0,${pos})`)
    .call(ax(x).tickValues(xTickValues).tickSize(-11).tickFormat("")).call(styleAxis);
});
[[d3.axisLeft, x0], [d3.axisRight, x1]].forEach(([ax, pos]) => {
  axes.append("g").attr("transform", `translate(${pos},0)`)
    .call(ax(y).tickValues(yMinor).tickSize(-6).tickFormat("")).call(styleAxis);
  axes.append("g").attr("transform", `translate(${pos},0)`)
    .call(ax(y).tickValues(yMajor).tickSize(-12).tickFormat("")).call(styleAxis);
});
axes.append("rect").attr("x", x0).attr("y", y1).attr("width", x1 - x0).attr("height", y0 - y1)
  .attr("fill", "none").attr("stroke", "#000").attr("stroke-width", 2);

// x tick labels
const xl = axes.selectAll("text.xl").data(xTickValues).join("text")
  .attr("class", "xl")
  .attr("x", d => x(d)).attr("y", 872)
  .attr("text-anchor", "middle").attr("font-size", 21).attr("fill", "#000");
xl.append("tspan").text((d, i) => xTickBase[i]);
xl.append("tspan").attr("dy", -10).attr("font-size", 16).text((d, i) => xTickExp[i]);

// y tick labels
axes.selectAll("text.yl").data(yTickValues).join("text")
  .attr("class", "yl")
  .attr("x", 80).attr("y", d => y(d) + 10)
  .attr("text-anchor", "end").attr("font-size", 22).attr("fill", "#000")
  .text("10");
axes.selectAll("text.ye").data(yTickValues).join("text")
  .attr("class", "ye")
  .attr("x", 92).attr("y", d => y(d) - 2)
  .attr("font-size", 18).attr("fill", "#000")
  .text((d, i) => yTickExp[i]);

// axis titles
svg.append("text")
  .attr("x", 641).attr("y", 907).attr("text-anchor", "middle")
  .attr("font-size", 24).attr("fill", "#000")
  .attr("textLength", 283).attr("lengthAdjust", "spacing")
  .text("Source frame Time [s]");
svg.append("text")
  .attr("transform", `translate(47,${(y0 + y1) / 2}) rotate(-90)`)
  .attr("text-anchor", "middle").attr("font-size", 24).attr("fill", "#000")
  .attr("textLength", 386).attr("lengthAdjust", "spacing")
  .text("0.2\u221210 keV Luminosity [erg/s]");

// burst legend
svg.selectAll("text.grb").data(grbNames).join("text")
  .attr("class", "grb")
  .attr("x", 937).attr("y", (d, i) => 173.3 + i * 37.75)
  .attr("font-size", 26)
  .attr("fill", (d, i) => grbColors[i])
  .text(d => d);

// instrument legend
svg.append("circle").attr("cx", 215.7).attr("cy", 767.3).attr("r", 6.5).attr("fill", "#000");
svg.append("path").attr("d", d3.symbol(d3.symbolStar, 140)())
  .attr("transform", "translate(215.7,790)").attr("fill", "#000");
const inst = svg.append("g").attr("font-family", "'Liberation Sans', Arial, sans-serif")
  .attr("font-size", 21).attr("letter-spacing", 0.6);
inst.append("text").attr("x", 256).attr("y", 776).text("BAT");
inst.append("text").attr("x", 256).attr("y", 799).text("XRT");

// annotation
const note = svg.append("g").attr("font-family", "Lato, 'Open Sans', sans-serif")
  .attr("font-weight", "bold").attr("font-size", 36).attr("fill", "#eb7a45");
note.append("text").attr("x", 307).attr("y", 549)
  .attr("textLength", 103).attr("lengthAdjust", "spacingAndGlyphs").text("SWIFT:");
note.append("text").attr("x", 307).attr("y", 596)
  .attr("textLength", 168).attr("lengthAdjust", "spacingAndGlyphs").text("BAT \u2192 XRT");
</script>
</body>
</html>
